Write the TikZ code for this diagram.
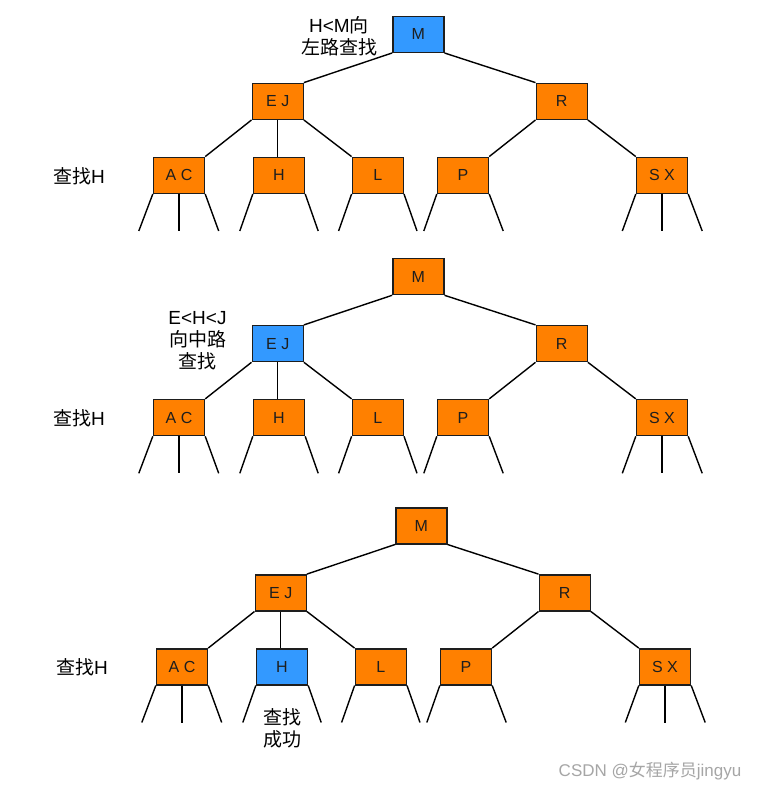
\documentclass[tikz,border=0pt]{standalone}
\usepackage{fontspec}
\setmainfont{Liberation Sans}
\newfontfamily\cjk{Noto Sans CJK SC}
\definecolor{orn}{HTML}{FF8000}
\definecolor{blu}{HTML}{3399FF}
\definecolor{wmgray}{HTML}{A6A6A6}
\definecolor{ink}{HTML}{1E1E1E}
\tikzset{
  tnode/.style={draw=ink, line width=1.4pt, minimum width=51pt, minimum height=36pt,
    inner sep=0pt, text=ink, font=\fontsize{16}{17}\selectfont},
  edge/.style={draw=black, line width=1.4pt},
  lbl/.style={align=center, text=black, inner sep=0pt, font=\fontsize{19}{22}\selectfont}
}
\newcommand\drawtree[4]{%
  \node[tnode, fill=#2] (#1M)  at (418.3,34.3)  {M};
  \node[tnode, fill=#3] (#1EJ) at (277.7,101.3) {E J};
  \node[tnode, fill=orn] (#1R)  at (561.7,101.3) {R};
  \node[tnode, fill=orn] (#1AC) at (179,175.3)   {A C};
  \node[tnode, fill=#4] (#1H)  at (279,175.3)   {H};
  \node[tnode, fill=orn] (#1L)  at (377.8,175.3) {L};
  \node[tnode, fill=orn] (#1P)  at (463,175.3)   {P};
  \node[tnode, fill=orn] (#1SX) at (662,175.3)   {S X};
  \draw[edge] (#1M.south west) -- (#1EJ.north east);
  \draw[edge] (#1M.south east) -- (#1R.north west);
  \draw[edge] (#1EJ.south west) -- (#1AC.north east);
  \draw[edge] (#1EJ.south) -- (#1EJ.south |- #1H.north);
  \draw[edge] (#1EJ.south east) -- (#1L.north west);
  \draw[edge] (#1R.south west) -- (#1P.north east);
  \draw[edge] (#1R.south east) -- (#1SX.north west);
  % leaves
  \draw[edge] (#1AC.south west) -- ++(-14,37);
  \draw[edge] (#1AC.south) -- ++(0,37);
  \draw[edge] (#1AC.south east) -- ++(13.5,37);
  \draw[edge] (#1H.south west) -- ++(-13,37);
  \draw[edge] (#1H.south east) -- ++(13,37);
  \draw[edge] (#1L.south west) -- ++(-13,37);
  \draw[edge] (#1L.south east) -- ++(13,37);
  \draw[edge] (#1P.south west) -- ++(-13,37);
  \draw[edge] (#1P.south east) -- ++(14,37);
  \draw[edge] (#1SX.south west) -- ++(-13.5,37);
  \draw[edge] (#1SX.south) -- ++(0,37);
  \draw[edge] (#1SX.south east) -- ++(14,37);
  \node[lbl] (#1find) at (79,176) {{\cjk 查找}H};
}
\begin{document}
\begin{tikzpicture}[x=1pt, y=-1pt]
  \useasboundingbox[fill=white] (0,0) rectangle (763,791);
  \begin{scope}
    \drawtree{a}{blu}{orn}{orn}
    \node[lbl] (alab) at (339,36) {H<M{\cjk 向}\\{\cjk 左路查找}};
  \end{scope}
  \begin{scope}[shift={(0,242.3)}]
    \drawtree{b}{orn}{blu}{orn}
  \end{scope}
  \node[lbl] (blab) at (197.5,341) {E<H<J\\{\cjk 向中路}\\{\cjk 查找}};
  \begin{scope}[shift={(3,491.5)}]
    \drawtree{c}{orn}{orn}{blu}
  \end{scope}
  \node[lbl] (clab) at (282.5,728.7) {{\cjk 查找}\\{\cjk 成功}};
  \node[text=wmgray, inner sep=0pt, font=\fontsize{17}{18}\selectfont] (wm) at (650,771) {CSDN @{\cjk 女程序员}jingyu};
\end{tikzpicture}
\end{document}
